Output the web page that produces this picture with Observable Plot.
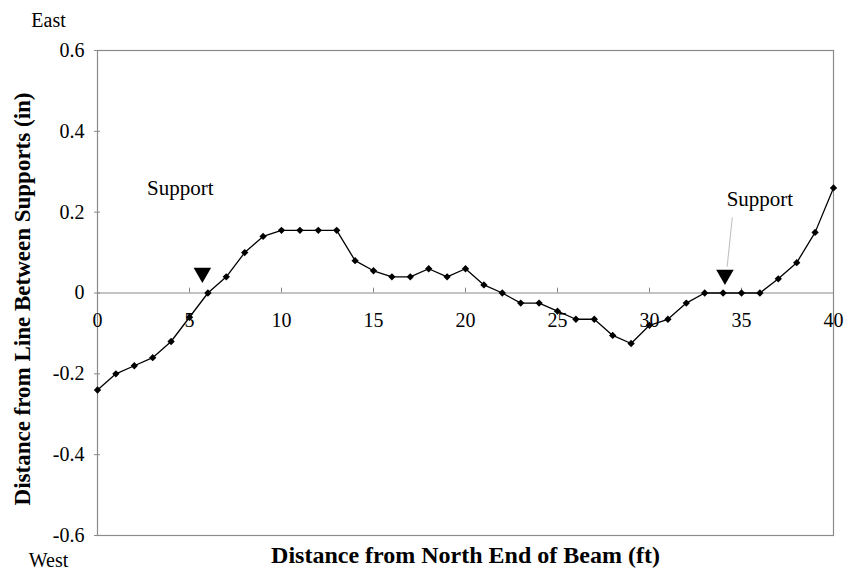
<!DOCTYPE html>
<html>
<head>
<meta charset="utf-8">
<script src="https://cdn.jsdelivr.net/npm/d3@7"></script>
<script src="https://cdn.jsdelivr.net/npm/@observablehq/plot@0.6"></script>
<style>
  html, body { margin: 0; padding: 0; background: #fff; }
  #chart { width: 844px; height: 571px; }
  #chart svg, #chart svg text { font-family: 'Liberation Serif', 'Times New Roman', serif !important; }
</style>
</head>
<body>
<div id="chart"></div>
<script>
const distance = [0,1,2,3,4,5,6,7,8,9,10,11,12,13,14,15,16,17,18,19,20,21,22,23,24,25,26,27,28,29,30,31,32,33,34,35,36,37,38,39,40];
const offset = [-0.24,-0.20,-0.18,-0.16,-0.12,-0.06,0,0.04,0.10,0.14,0.155,0.155,0.155,0.155,0.08,0.055,0.04,0.04,0.06,0.04,0.06,
                0.02,0,-0.025,-0.025,-0.045,-0.065,-0.065,-0.105,-0.125,-0.08,-0.065,-0.025,0,0,0,0,0.035,0.075,0.15,0.26];
const xTicks = [0,5,10,15,20,25,30,35,40];
const yTicks = [-0.6,-0.4,-0.2,0,0.2,0.4,0.6];
const supportX = [5.7, 34.1];
const supportY = [0.05, 0.045];
const supportLabelX = [4.5, 36.0];
const supportLabelY = [0.259, 0.231];
const xTitle = "Distance from North End of Beam (ft)";
const yTitle = "Distance from Line Between Supports (in)";

const data = distance.map((d, i) => ({x: d, y: offset[i]}));
const supports = supportX.map((d, i) => ({x: d, y: supportY[i]}));
const labels = supportLabelX.map((d, i) => ({x: d, y: supportLabelY[i], t: "Support"}));
const leader = [{x1: 34.5, y1: 0.187, x2: 34.22, y2: 0.065}];

const font = "'Liberation Serif', 'Times New Roman', serif";
const fmtY = d => d === 0 ? "0" : d.toFixed(1);

const chart = Plot.plot({
  width: 844,
  height: 571,
  marginLeft: 97,
  marginRight: 11,
  marginTop: 50,
  marginBottom: 36,
  style: {fontFamily: font, fontSize: "16px", color: "#000", background: "#fff"},
  x: {domain: [0, 40], axis: null},
  y: {domain: [-0.6, 0.6], axis: null},
  marks: [
    Plot.frame({stroke: "#8a8a8a", strokeWidth: 1.2}),
    Plot.ruleY(yTicks, {x1: 0, x2: 0, insetLeft: -3, insetRight: -3, stroke: "#8a8a8a"}),
    Plot.text(yTicks, {x: 0, y: d => d, dx: -13, textAnchor: "end", text: fmtY, fontSize: 20, fill: "#000", fontFamily: font}),
    Plot.ruleY([0], {stroke: "#8a8a8a", strokeWidth: 1.2}),
    Plot.ruleX(xTicks, {y1: 0, y2: 0.012, stroke: "#8a8a8a"}),
    Plot.text(xTicks, {x: d => d, y: 0, dy: 28, text: d => String(d), fontSize: 20, fill: "#000", fontFamily: font}),
    Plot.link(leader, {x1: "x1", y1: "y1", x2: "x2", y2: "y2", stroke: "#aaa", strokeWidth: 0.8}),
    Plot.line(data, {x: "x", y: "y", stroke: "#000", strokeWidth: 1.3}),
    Plot.dot(data, {x: "x", y: "y", symbol: "diamond2", r: 3.3, fill: "#000", stroke: null}),
    Plot.dot(supports, {x: "x", y: "y", symbol: "triangle", r: 6.5, rotate: 180, fill: "#000", stroke: null}),
    Plot.text(labels, {x: "x", y: "y", text: "t", fontSize: 21, fill: "#000", fontFamily: font}),
    Plot.text([yTitle], {frameAnchor: "left", textAnchor: "middle", dx: -75, dy: 6, rotate: -90, fontWeight: "bold", fontSize: 23, fill: "#000", fontFamily: font}),
    Plot.text([xTitle], {frameAnchor: "bottom", dy: 27, fontWeight: "bold", fontSize: 24, fill: "#000", fontFamily: font}),
    Plot.text(["East"], {frameAnchor: "top-left", textAnchor: "middle", dx: -49, dy: -38, fontSize: 20, fill: "#000", fontFamily: font}),
    Plot.text(["West"], {frameAnchor: "bottom-left", textAnchor: "middle", dx: -49, dy: 31, fontSize: 20, fill: "#000", fontFamily: font})
  ]
});
document.getElementById("chart").appendChild(chart);
</script>
</body>
</html>
